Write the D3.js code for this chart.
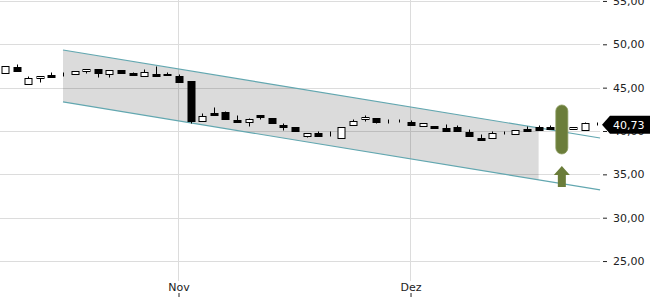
<!DOCTYPE html>
<html><head><meta charset="utf-8">
<script src="https://cdn.jsdelivr.net/npm/d3@7"></script>
<style>html,body{margin:0;padding:0;background:#fff;}svg{display:block;}</style>
</head><body>
<svg id="chart" width="650" height="300"></svg>
<script>
// ---- data ----
const opens  = [46.65,47.35,45.42,46.08,46.50,46.55,46.57,46.89,47.15,46.57,47.07,46.72,46.31,46.54,46.57,46.34,45.77,41.15,42.04,42.19,41.30,41.00,41.81,41.50,40.73,40.46,39.42,39.73,39.70,39.16,40.66,41.35,41.46,41.15,41.27,41.04,40.54,40.61,40.38,40.46,39.92,39.19,39.19,39.88,39.62,40.27,40.43,40.50,40.27,40.23,40.15,40.73];
const highs  = [47.50,47.70,46.38,46.38,46.84,46.77,46.95,47.15,47.15,47.04,47.07,46.84,47.15,47.50,46.84,46.57,45.77,42.04,42.73,42.31,41.88,41.50,41.81,41.50,40.89,40.46,39.80,40.03,39.96,40.43,41.38,41.88,41.46,41.35,41.44,41.27,40.89,40.61,40.81,40.66,40.23,39.62,39.96,40.03,40.08,40.58,40.69,40.66,40.38,40.50,41.04,41.04];
const lows   = [46.65,46.95,45.42,45.62,46.23,46.31,46.57,46.65,46.23,46.23,46.65,46.46,46.31,46.31,46.42,45.62,40.96,41.15,41.85,41.35,41.07,40.61,41.35,40.89,40.08,40.00,39.27,39.46,39.42,39.16,40.66,41.15,40.92,40.89,41.00,40.66,40.54,40.31,40.03,39.97,39.42,39.00,39.19,39.65,39.62,39.97,40.12,40.23,40.08,40.23,40.15,40.73];
const closes = [47.50,46.95,46.15,46.38,46.23,46.53,46.89,47.15,46.69,47.04,46.65,46.46,46.84,46.38,46.42,45.62,41.15,41.76,41.85,41.35,41.07,41.38,41.58,40.89,40.43,40.00,39.80,39.46,39.65,40.43,41.15,41.65,41.07,41.10,41.22,40.66,40.89,40.31,40.03,39.97,39.42,39.00,39.77,39.84,40.08,39.97,40.12,40.23,40.08,40.50,40.89,40.73];

const monthTickIdx = [15, 35];
const monthTickLabels = ["Nov", "Dez"];
const yTickValues = [25, 30, 35, 40, 45, 50, 55];
const lastPrice = 40.73;

// trend channel: start/end index and values
const channelIdx   = [5, 51.3];
const channelUpper = [49.34, 39.19];
const channelLower = [43.35, 33.20];
const bandEndIdx = 46;

// signal markers
const signalIdx = 48;
const signalBox = [37.35, 43.0];
const signalArrow = [33.55, 35.95];

// ---- drawing ----
const svg = d3.select("#chart");
const x = d3.scaleLinear().domain([-0.431, 51.29]).range([0, 600]);
const y = d3.scaleLinear().domain([25, 55]).range([261.05, 0.95]);
const fmt = v => d3.format(".2f")(v).replace(".", ",");

// gridlines
const grid = svg.append("g");
grid.selectAll("line.h").data(yTickValues).enter().append("line")
  .attr("x1", 0).attr("x2", 600)
  .attr("y1", d => Math.round(y(d)) + 0.5).attr("y2", d => Math.round(y(d)) + 0.5)
  .attr("stroke", "#dcdcdc").attr("stroke-width", 1);
grid.selectAll("line.v").data(monthTickIdx).enter().append("line")
  .attr("x1", d => Math.round(x(d)) - 0.5).attr("x2", d => Math.round(x(d)) - 0.5)
  .attr("y1", 0).attr("y2", 281)
  .attr("stroke", "#dcdcdc").attr("stroke-width", 1);

// channel band
const lineAt = (vals, i) => vals[0] + (vals[1] - vals[0]) * (i - channelIdx[0]) / (channelIdx[1] - channelIdx[0]);
const bandPts = [
  [x(channelIdx[0]), y(channelUpper[0])],
  [x(bandEndIdx), y(lineAt(channelUpper, bandEndIdx))],
  [x(bandEndIdx), y(lineAt(channelLower, bandEndIdx))],
  [x(channelIdx[0]), y(channelLower[0])]
];
svg.append("path").attr("d", d3.line()(bandPts) + "Z")
  .attr("fill", "rgba(0,0,0,0.14)");

// channel lines
[channelUpper, channelLower].forEach(vals => {
  svg.append("line")
    .attr("x1", x(channelIdx[0])).attr("y1", y(vals[0]))
    .attr("x2", x(channelIdx[1])).attr("y2", y(vals[1]))
    .attr("stroke", "#62a7b0").attr("stroke-width", 1.2);
});

// candles
const idx = d3.range(opens.length);
const cw = 7;
const cg = svg.append("g");
const cx = i => Math.round(x(i)) + 0.5;
cg.selectAll("line.wick").data(idx).enter().append("line")
  .attr("x1", cx).attr("x2", cx)
  .attr("y1", i => Math.round(y(highs[i])) + 0.5)
  .attr("y2", i => Math.round(y(lows[i])) + 0.5)
  .attr("stroke", "#000").attr("stroke-width", 1);
cg.selectAll("rect.body").data(idx).enter().append("rect")
  .attr("x", i => cx(i) - cw / 2)
  .attr("y", i => Math.round(y(Math.max(opens[i], closes[i]))) + 0.5)
  .attr("width", cw)
  .attr("height", i => Math.max(0, Math.round(y(Math.min(opens[i], closes[i]))) - Math.round(y(Math.max(opens[i], closes[i])))))
  .attr("fill", i => closes[i] >= opens[i] ? "#fff" : "#000")
  .attr("stroke", "#000").attr("stroke-width", 1);

// signal marker
const sx = x(signalIdx);
svg.append("rect")
  .attr("x", sx - 6).attr("width", 12)
  .attr("y", y(signalBox[1])).attr("height", y(signalBox[0]) - y(signalBox[1]))
  .attr("rx", 6).attr("ry", 6)
  .attr("fill", "#6b7d3a").attr("stroke", "#8a9a5e").attr("stroke-width", 0.8);
const aTop = y(signalArrow[1]), aBot = y(signalArrow[0]), aMid = aTop + 9;
svg.append("path")
  .attr("d", d3.line()([[sx, aTop], [sx + 8, aMid], [sx + 4, aMid], [sx + 4, aBot], [sx - 4, aBot], [sx - 4, aMid], [sx - 8, aMid]]) + "Z")
  .attr("fill", "#6b7d3a");

// y axis (right)
const yAxis = d3.axisRight(y).tickValues(yTickValues).tickFormat(fmt).tickSize(4).tickPadding(6);
const gy = svg.append("g").attr("transform", "translate(603,0)").call(yAxis);
gy.select(".domain").remove();
gy.selectAll("line").attr("stroke", "#222");
gy.selectAll("text").attr("fill", "#222").style("font-family", "DejaVu Sans").style("font-size", "11px");

// x axis (bottom) - tick marks below labels
const xAxis = d3.axisBottom(x).tickValues(monthTickIdx).tickFormat((d, k) => monthTickLabels[k]).tickSize(4);
const gx = svg.append("g").attr("transform", "translate(-0.5,293)").call(xAxis);
gx.select(".domain").remove();
gx.selectAll("line").attr("stroke", "#222");
gx.selectAll("text").attr("y", -2.5).attr("dy", "0").attr("fill", "#222")
  .style("font-family", "DejaVu Sans").style("font-size", "11px");

// last price label
const py = y(lastPrice);
svg.append("path")
  .attr("d", d3.line()([[602, py], [610, py - 9], [650, py - 9], [650, py + 9], [610, py + 9]]) + "Z")
  .attr("fill", "#000");
svg.append("text").attr("x", 613).attr("y", py).attr("dy", "0.35em")
  .attr("fill", "#fff").style("font-family", "DejaVu Sans").style("font-size", "11px")
  .text(fmt(lastPrice));
</script>
</body></html>
